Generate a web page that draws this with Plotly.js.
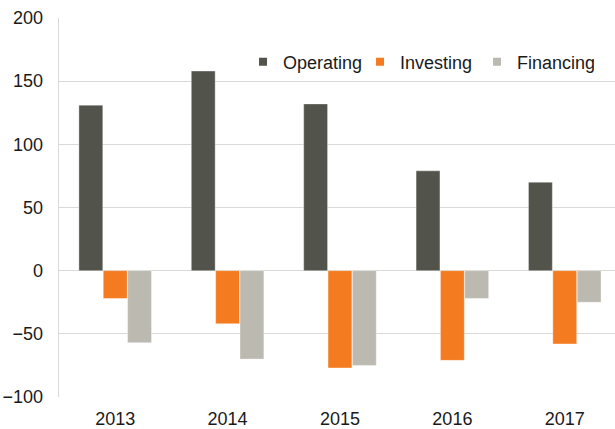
<!DOCTYPE html>
<html>
<head>
<meta charset="utf-8">
<script src="https://cdn.plot.ly/plotly-3.0.1.min.js"></script>
<style>html,body{margin:0;padding:0;background:#fff;}#chart{width:615px;height:429px;}</style>
</head>
<body>
<div id="chart"></div>
<script>
const years = ["2013", "2014", "2015", "2016", "2017"];
const seriesNames = ["Operating", "Investing", "Financing"];
const operating = [131, 158, 132, 79, 70];
const investing = [-22, -42, -77, -71, -58];
const financing = [-57, -70, -75, -22, -25];
const tickVals = [-100, -50, 0, 50, 100, 150, 200];
const colors = ["#52534A", "#F47B20", "#BCB9B0"];
const values = [operating, investing, financing];

const data = [];
values.forEach((v, i) => {
  data.push({
    type: "bar", name: seriesNames[i], x: years, y: v, showlegend: false,
    marker: {color: colors[i], line: {color: "rgba(255,255,255,0.6)", width: 0.6}}
  });
});
// legend entries with small square symbols
seriesNames.forEach((n, i) => {
  data.push({
    type: "scatter", mode: "markers", name: n, x: [years[0]], y: [null],
    marker: {symbol: "square", size: 8, color: colors[i]}, showlegend: true
  });
});

const layout = {
  width: 615, height: 429,
  margin: {l: 59, r: 0, t: 18, b: 32},
  paper_bgcolor: "#fff", plot_bgcolor: "#fff",
  font: {family: "Liberation Sans, Arial, sans-serif", size: 18, color: "#1a1a1a"},
  barmode: "group", bargap: 0.35, bargroupgap: 0.02,
  showlegend: true,
  legend: {orientation: "h", x: 0.331, xanchor: "left", y: 0.884, yanchor: "middle",
           entrywidth: 72, entrywidthmode: "pixels",
           font: {size: 18, color: "#1a1a1a"}, traceorder: "normal", bgcolor: "rgba(0,0,0,0)"},
  xaxis: {type: "category", range: [-0.5, 4.447], showgrid: false, zeroline: false,
          showline: false, ticks: "", ticklabelstandoff: 9, tickfont: {size: 18}},
  yaxis: {range: [-100, 200], tickvals: tickVals, showgrid: true, gridcolor: "#D9D9D9", gridwidth: 1.3,
          zeroline: true, zerolinecolor: "#D9D9D9", zerolinewidth: 1.3,
          showline: true, linecolor: "#D9D9D9", linewidth: 1.3, ticks: "", ticklabelstandoff: 11,
          tickfont: {size: 18}}
};

Plotly.newPlot("chart", data, layout, {displayModeBar: false, staticPlot: true});
</script>
</body>
</html>
